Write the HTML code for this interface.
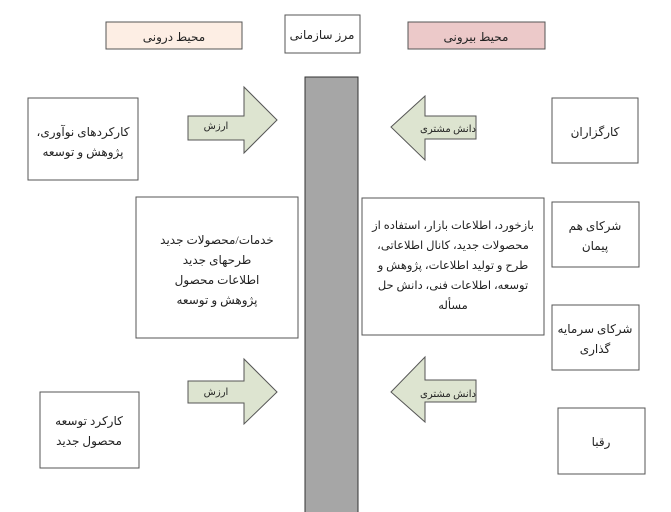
<!DOCTYPE html>
<html><head><meta charset="utf-8"><style>
html,body{margin:0;padding:0;background:#fff;width:671px;height:512px;overflow:hidden}
svg text{font-family:"Liberation Serif","DejaVu Sans",serif;fill:#222;direction:rtl;unicode-bidi:plaintext}
</style></head><body>
<svg width="671" height="512" viewBox="0 0 671 512" xmlns="http://www.w3.org/2000/svg">
<g stroke="#555" stroke-width="1">
<rect x="106" y="22" width="136" height="27" fill="#fdeee4"/>
<rect x="285" y="15" width="75" height="38" fill="#fff"/>
<rect x="408" y="22" width="137" height="27" fill="#ecc9c9"/>
<rect x="305" y="77" width="53" height="440" fill="#a6a6a6" stroke="#333"/>
<polygon points="188,116 244,116 244,87 277,120 244,153 244,140 188,140" fill="#dde4d0"/>
<polygon points="391,127 425,96 425,116 476,116 476,139 425,139 425,160" fill="#dde4d0"/>
<polygon points="188,381 244,381 244,359 277,392 244,424 244,403 188,403" fill="#dde4d0"/>
<polygon points="391,392 425,357 425,380 476,380 476,402 425,402 425,422" fill="#dde4d0"/>
<rect x="28" y="98" width="110" height="82" fill="#fff"/>
<rect x="552" y="98" width="86" height="65" fill="#fff"/>
<rect x="136" y="197" width="162" height="141" fill="#fff"/>
<rect x="362" y="198" width="182" height="137" fill="#fff"/>
<rect x="552" y="202" width="87" height="65" fill="#fff"/>
<rect x="552" y="305" width="87" height="65" fill="#fff"/>
<rect x="40" y="392" width="99" height="76" fill="#fff"/>
<rect x="558" y="408" width="87" height="66" fill="#fff"/>
</g>
<g font-size="12" text-anchor="middle">
<text x="174" y="41">محیط درونی</text>
<text x="322" y="39">مرز سازمانی</text>
<text x="476" y="41">محیط بیرونی</text>
<text x="216" y="129" font-size="10">ارزش</text>
<text x="448" y="132" font-size="10">دانش مشتری</text>
<text x="216" y="395" font-size="10">ارزش</text>
<text x="448" y="397" font-size="10">دانش مشتری</text>
<text x="83" y="136">کارکردهای نوآوری،</text>
<text x="83" y="156">پژوهش و توسعه</text>
<text x="595" y="136">کارگزاران</text>
<text x="217" y="244">خدمات/محصولات جدید</text>
<text x="217" y="264">طرحهای جدید</text>
<text x="217" y="284">اطلاعات محصول</text>
<text x="217" y="304">پژوهش و توسعه</text>
<g font-size="11.5">
<text x="453" y="229">بازخورد، اطلاعات بازار، استفاده از</text>
<text x="453" y="249">محصولات جدید، کانال اطلاعاتی،</text>
<text x="453" y="269">طرح و تولید اطلاعات، پژوهش و</text>
<text x="453" y="289">توسعه، اطلاعات فنی، دانش حل</text>
<text x="453" y="309">مسأله</text>
</g>
<text x="595" y="230">شرکای هم</text>
<text x="595" y="250">پیمان</text>
<text x="595" y="333">شرکای سرمایه</text>
<text x="595" y="353">گذاری</text>
<text x="89" y="425">کارکرد توسعه</text>
<text x="89" y="445">محصول جدید</text>
<text x="601" y="446">رقبا</text>
</g>
</svg>
</body></html>
